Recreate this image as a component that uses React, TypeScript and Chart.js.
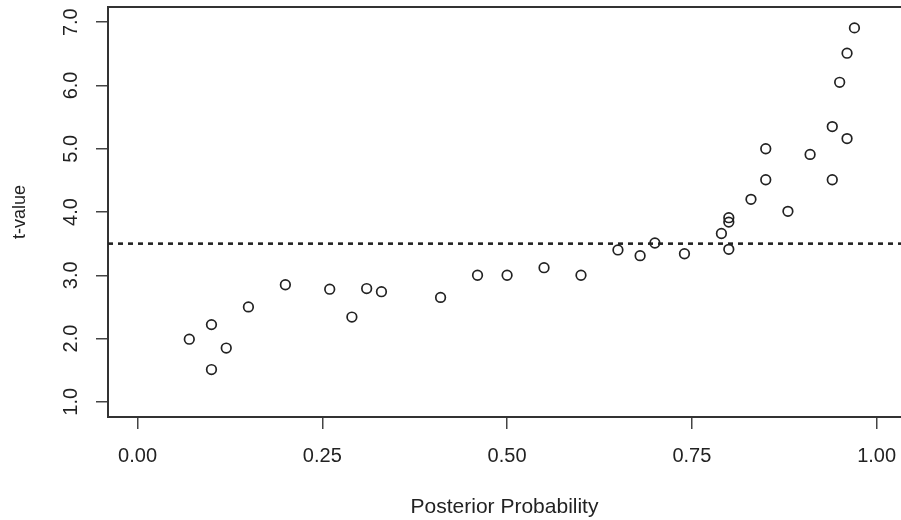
import React, { useEffect, useRef } from "react";
import { Chart, registerables } from "chart.js";

Chart.register(...registerables);

const posteriorProb = [
  0.07, 0.10, 0.12, 0.10, 0.15, 0.20, 0.26, 0.29, 0.31, 0.33, 0.41,
  0.46, 0.50, 0.55, 0.60, 0.65, 0.68, 0.70, 0.74, 0.79, 0.80, 0.80, 0.80,
  0.83, 0.85, 0.85, 0.88, 0.91, 0.94, 0.94, 0.95, 0.96, 0.96, 0.97,
];
const tValue = [
  1.99, 2.22, 1.85, 1.51, 2.50, 2.85, 2.78, 2.34, 2.79, 2.74, 2.65,
  3.00, 3.00, 3.12, 3.00, 3.40, 3.31, 3.51, 3.34, 3.66, 3.91, 3.84, 3.41,
  4.20, 5.00, 4.51, 4.01, 4.91, 5.35, 4.51, 6.05, 6.51, 5.16, 6.91,
];
const xTicks = [0, 0.25, 0.5, 0.75, 1.0];
const yTicks = [1, 2, 3, 4, 5, 6, 7];
const thresholdT = 3.5;
const xMin = -0.04;
const xMax = 1.033;
const yMin = 0.76;
const yMax = 7.24;

const FONT = "'Liberation Sans', Arial, Helvetica, sans-serif";
const INK = "#222";

const boxPlugin = {
  id: "boxTop",
  afterDraw(chart: any) {
    const { ctx, chartArea } = chart;
    ctx.save();
    ctx.strokeStyle = "#333";
    ctx.lineWidth = 2;
    ctx.beginPath();
    ctx.moveTo(chartArea.left - 1, chartArea.top);
    ctx.lineTo(chartArea.right, chartArea.top);
    ctx.stroke();
    ctx.restore();
  },
};

const zeroPad = (s: any) => {
  s.paddingLeft = 0;
  s.paddingRight = 0;
  s.paddingTop = 0;
  s.paddingBottom = 0;
};

export default function App() {
  const ref = useRef<HTMLCanvasElement | null>(null);
  useEffect(() => {
    if (!ref.current) return;
    const points = posteriorProb.map((x, i) => ({ x, y: tValue[i] }));
    const chart = new Chart(ref.current, {
      type: "scatter",
      data: {
        datasets: [
          {
            type: "line",
            label: "threshold",
            data: [
              { x: xMin, y: thresholdT },
              { x: xMax, y: thresholdT },
            ],
            borderColor: "#222",
            borderWidth: 2.6,
            borderDash: [5, 5],
            pointRadius: 0,
            pointHoverRadius: 0,
            fill: false,
          } as any,
          {
            label: "t-value",
            data: points,
            pointStyle: "circle",
            pointRadius: 4.8,
            pointBorderWidth: 1.7,
            borderColor: INK,
            backgroundColor: "rgba(0,0,0,0)",
          } as any,
        ],
      },
      options: {
        animation: false,
        responsive: true,
        maintainAspectRatio: false,
        layout: {
          autoPadding: false,
          padding: { left: 0, top: 7, right: 0, bottom: 0 },
        },
        plugins: {
          legend: { display: false },
          tooltip: { enabled: false },
        },
        scales: {
          x: {
            type: "linear",
            min: xMin,
            max: xMax,
            afterBuildTicks: (s: any) => {
              s.ticks = xTicks.map((v) => ({ value: v }));
            },
            afterFit: (s: any) => {
              s.height = 103;
              zeroPad(s);
            },
            ticks: {
              callback: (v: any) => Number(v).toFixed(2),
              font: { family: FONT, size: 20 },
              color: INK,
              padding: 15,
              maxRotation: 0,
              minRotation: 0,
            },
            grid: {
              drawOnChartArea: false,
              drawTicks: true,
              tickLength: 12,
              tickColor: "#444",
              lineWidth: 1.5,
            },
            border: { display: true, color: "#333", width: 2 },
            title: {
              display: true,
              text: "Posterior Probability",
              font: { family: FONT, size: 21 },
              color: INK,
              padding: { top: 0, bottom: 0 },
            },
          },
          y: {
            type: "linear",
            min: yMin,
            max: yMax,
            afterBuildTicks: (s: any) => {
              s.ticks = yTicks.map((v) => ({ value: v }));
            },
            afterFit: (s: any) => {
              s.width = 108;
              zeroPad(s);
            },
            ticks: {
              callback: (v: any) => Number(v).toFixed(1),
              font: { family: FONT, size: 20 },
              color: INK,
              padding: 11,
              minRotation: 90,
              maxRotation: 90,
              crossAlign: "center",
            },
            grid: {
              drawOnChartArea: false,
              drawTicks: true,
              tickLength: 12,
              tickColor: "#444",
              lineWidth: 1.5,
            },
            border: { display: true, color: "#333", width: 2 },
            title: {
              display: true,
              text: "t-value",
              font: { family: FONT, size: 18 },
              color: INK,
              padding: { top: 9, bottom: 0 },
            },
          },
        },
      },
      plugins: [boxPlugin],
    });
    return () => chart.destroy();
  }, []);

  return (
    <div
      style={{
        position: "absolute",
        left: 0,
        top: 0,
        width: 901,
        height: 520,
        background: "#fff",
      }}
    >
      <canvas ref={ref} />
    </div>
  );
}
